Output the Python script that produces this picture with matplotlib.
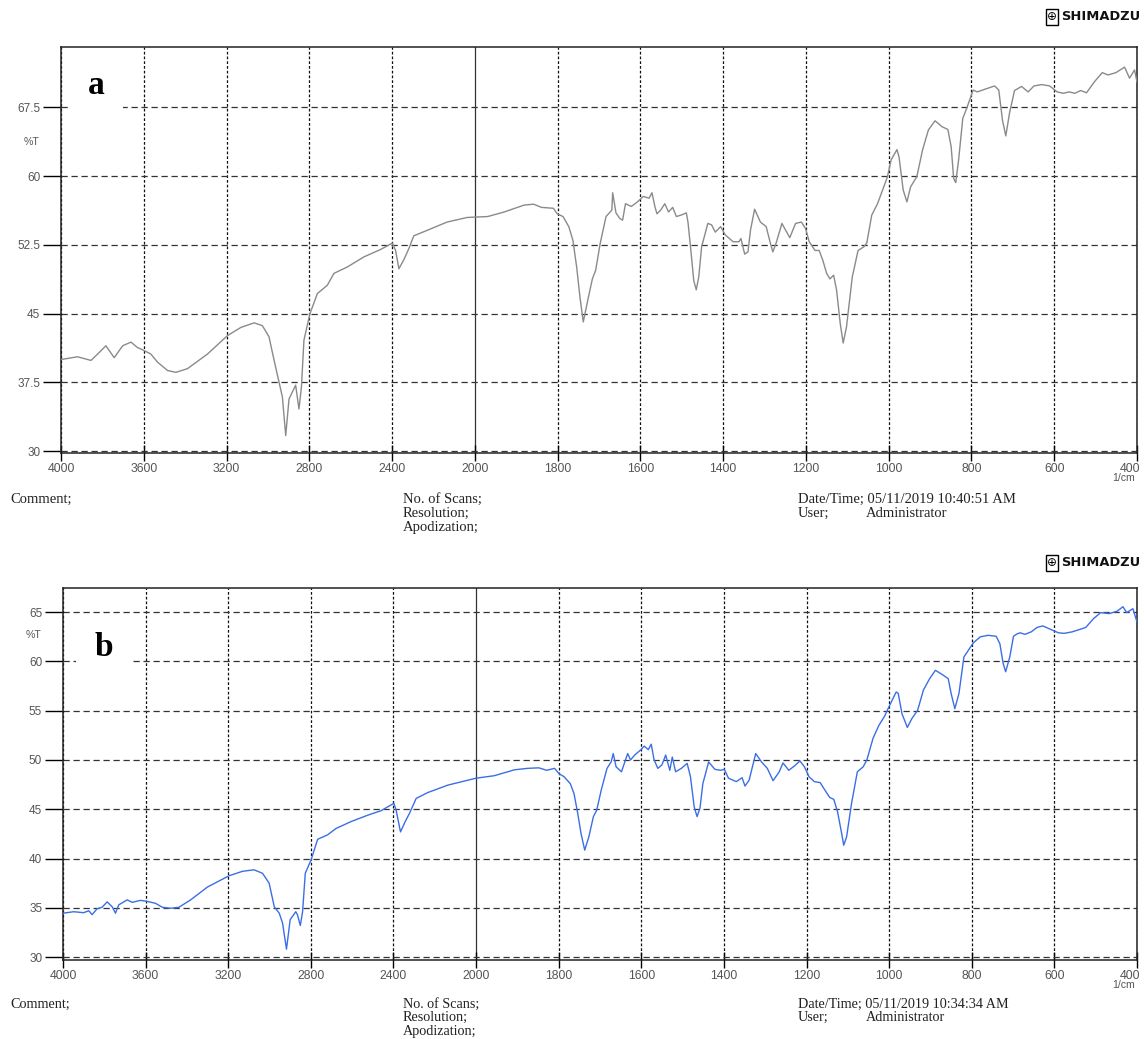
import numpy as np
import matplotlib
matplotlib.use("Agg")
import matplotlib.pyplot as plt
import matplotlib.transforms as mtransforms

# spectrum a (grey): wavenumber (1/cm), %T
wn_a = [4000, 3920, 3855, 3823, 3783, 3743, 3702, 3662, 3630, 3600, 3566, 3533, 3485, 3445,
        3389, 3292, 3196, 3131, 3067, 3027, 2995, 2970, 2946, 2930, 2914, 2898, 2866, 2850,
        2838, 2826, 2797, 2761, 2713, 2681, 2616, 2536, 2456, 2399, 2383, 2367, 2343, 2319,
        2295, 2230, 2134, 2037, 1969, 1929, 1881, 1858, 1839, 1810, 1801, 1787, 1773, 1763,
        1754, 1746, 1738, 1727, 1716, 1708, 1697, 1683, 1669, 1667, 1659, 1650, 1643, 1636,
        1622, 1607, 1593, 1579, 1572, 1565, 1560, 1551, 1541, 1532, 1522, 1513, 1499, 1489,
        1485, 1478, 1471, 1465, 1459, 1452, 1437, 1428, 1419, 1406, 1395, 1376, 1362, 1357,
        1348, 1340, 1334, 1324, 1310, 1296, 1286, 1280, 1272, 1258, 1249, 1239, 1225, 1211,
        1201, 1192, 1178, 1168, 1159, 1150, 1142, 1133, 1126, 1117, 1110, 1102, 1088, 1074,
        1060, 1053, 1041, 1027, 1013, 1003, 994, 980, 975, 965, 956, 947, 932, 918, 904, 888,
        871, 857, 849, 843, 838, 831, 821, 810, 796, 786, 767, 744, 734, 725, 717, 708, 696,
        679, 663, 649, 630, 611, 593, 578, 564, 550, 536, 522, 503, 484, 470, 451, 430, 418,
        406, 400]
t_a = [40.0, 40.3, 39.9, 40.6, 41.5, 40.2, 41.5, 41.9, 41.3, 41.0, 40.6, 39.7, 38.8, 38.6,
       39.0, 40.6, 42.6, 43.5, 44.0, 43.7, 42.5, 39.9, 37.5, 35.9, 31.7, 35.7, 37.2, 34.6,
       37.0, 42.1, 45.0, 47.2, 48.1, 49.4, 50.1, 51.2, 52.0, 52.7, 51.9, 49.9, 50.9, 52.1,
       53.5, 54.1, 55.0, 55.5, 55.6, 56.1, 56.85, 56.95, 56.6, 56.5, 55.9, 55.6, 54.5, 53.0,
       50.1, 46.8, 44.1, 46.5, 48.8, 49.75, 52.7, 55.6, 56.3, 58.2, 56.0, 55.4, 55.2, 57.0,
       56.7, 57.2, 57.8, 57.6, 58.2, 56.7, 55.9, 56.3, 57.0, 56.1, 56.6, 55.6, 55.8, 56.0,
       55.0, 51.9, 48.6, 47.6, 49.0, 52.3, 54.85, 54.7, 53.9, 54.5, 53.6, 52.85, 52.85, 53.2,
       51.5, 51.75, 54.1, 56.4, 55.0, 54.5, 52.7, 51.75, 52.7, 54.85, 54.1, 53.3, 54.85, 55.0,
       54.3, 52.85, 51.9, 51.9, 50.8, 49.4, 48.8, 49.2, 47.6, 43.9, 41.8, 43.55, 49.0, 51.9,
       52.3, 52.7, 55.75, 57.0, 58.7, 59.95, 61.8, 62.9, 62.1, 58.5, 57.2, 58.85, 59.95, 62.9,
       65.05, 66.05, 65.4, 65.1, 63.2, 59.75, 59.3, 61.8, 66.3, 67.6, 69.4, 69.2, 69.5, 69.85,
       69.4, 66.1, 64.4, 66.9, 69.35, 69.8, 69.2, 69.85, 70.0, 69.85, 69.2, 69.05, 69.2,
       69.05, 69.35, 69.1, 70.3, 71.3, 71.05, 71.3, 71.9, 70.7, 71.6, 70.3]

# spectrum b (blue)
wn_b = [4000, 3948, 3900, 3875, 3859, 3835, 3811, 3786, 3762, 3746, 3730, 3689, 3665, 3625,
        3592, 3552, 3519, 3479, 3439, 3382, 3301, 3196, 3131, 3075, 3034, 3002, 2977, 2953,
        2937, 2918, 2900, 2873, 2865, 2851, 2840, 2827, 2799, 2767, 2719, 2678, 2605, 2524,
        2460, 2398, 2387, 2366, 2343, 2322, 2290, 2233, 2136, 2000, 1956, 1907, 1875, 1848,
        1829, 1810, 1799, 1787, 1772, 1763, 1754, 1746, 1737, 1727, 1716, 1708, 1697, 1683,
        1673, 1668, 1661, 1648, 1633, 1626, 1616, 1602, 1593, 1583, 1576, 1569, 1560, 1550,
        1541, 1531, 1525, 1517, 1503, 1489, 1481, 1472, 1465, 1458, 1451, 1437, 1422, 1408,
        1399, 1389, 1370, 1356, 1349, 1339, 1323, 1309, 1295, 1281, 1266, 1257, 1243, 1229,
        1216, 1205, 1194, 1181, 1167, 1158, 1144, 1134, 1125, 1115, 1110, 1103, 1091, 1077,
        1063, 1054, 1039, 1025, 1011, 997, 983, 978, 969, 956, 945, 931, 917, 902, 888, 869,
        857, 850, 841, 831, 819, 808, 796, 779, 760, 741, 732, 724, 718, 708, 699, 690, 683,
        671, 656, 642, 628, 609, 590, 576, 557, 538, 524, 505, 488, 467, 448, 434, 425, 410,
        400]
t_b = [34.45, 34.6, 34.5, 34.7, 34.3, 34.9, 35.05, 35.6, 35.1, 34.45, 35.3, 35.8, 35.55, 35.75,
       35.65, 35.45, 35.05, 34.95, 35.05, 35.8, 37.1, 38.25, 38.7, 38.85, 38.5, 37.5, 35.1, 34.45,
       33.45, 30.8, 33.8, 34.6, 34.3, 33.2, 34.6, 38.5, 39.85, 41.95, 42.4, 43.05, 43.75, 44.4,
       44.85, 45.6, 44.9, 42.7, 43.75, 44.6, 46.1, 46.7, 47.45, 48.15, 48.4, 49.0, 49.15, 49.2,
       48.95, 49.15, 48.6, 48.3, 47.6, 46.6, 44.6, 42.55, 40.85, 42.2, 44.25, 44.9, 46.95, 49.15,
       49.8, 50.65, 49.3, 48.8, 50.65, 50.0, 50.5, 51.0, 51.4, 51.05, 51.6, 50.0, 49.15, 49.5,
       50.5, 48.95, 50.3, 48.8, 49.15, 49.65, 48.3, 45.25, 44.25, 45.1, 47.6, 49.8, 49.05, 48.95,
       49.05, 48.15, 47.8, 48.2, 47.35, 47.95, 50.65, 49.8, 49.15, 47.9, 48.8, 49.7, 48.95, 49.4,
       49.9, 49.3, 48.3, 47.8, 47.7, 47.1, 46.2, 46.0, 44.75, 42.55, 41.35, 42.2, 45.6, 48.8,
       49.3, 50.0, 52.2, 53.5, 54.45, 55.7, 56.9, 56.75, 54.7, 53.3, 54.2, 55.05, 57.1, 58.25,
       59.1, 58.6, 58.25, 56.75, 55.2, 56.75, 60.45, 61.15, 61.9, 62.5, 62.65, 62.55, 61.8,
       59.8, 58.95, 60.45, 62.55, 62.8, 62.9, 62.75, 63.0, 63.45, 63.6, 63.25, 62.9, 62.85,
       63.0, 63.25, 63.45, 64.35, 64.95, 64.85, 65.1, 65.55, 64.95, 65.35, 64.0]

xticks = [4000, 3600, 3200, 2800, 2400, 2000, 1800, 1600, 1400, 1200, 1000, 800, 600, 400]
yticks_a = [30, 37.5, 45, 52.5, 60, 67.5]
yticks_b = [30, 35, 40, 45, 50, 55, 60, 65]

W, H = 1144, 1039


# shimadzu charts use half scale above 2000 1/cm
def fwd(x):
    x = np.asarray(x, dtype=float)
    return np.where(x > 2000, 2000 + (x - 2000) / 2.0, x)


def inv(u):
    u = np.asarray(u, dtype=float)
    return np.where(u > 2000, 2000 + (u - 2000) * 2.0, u)


def box(l, t, r, b):
    return [l / W, 1 - b / H, (r - l) / W, (b - t) / H]


def fx(x):
    return x / W


def fy(y):
    return 1 - y / H


fig = plt.figure(figsize=(W / 100, H / 100), dpi=100)
sans = ["Liberation Sans", "DejaVu Sans"]
serif = ["Liberation Serif", "DejaVu Serif"]


def panel(rect, wn, t, color, yticks, ylim, tlab, letter, letter_xy, unit_y):
    ax = fig.add_axes(rect)
    ax.plot(wn, t, color=color, lw=1.0, zorder=3)
    ax.set_xscale("function", functions=(fwd, inv))
    ax.set_xlim(4000, 400)
    ax.set_ylim(*ylim)
    ax.set_xticks(xticks)
    ax.set_xticklabels([str(v) for v in xticks])
    ax.set_yticks(yticks)
    ax.set_yticklabels([("%g" % v) for v in yticks])
    ax.minorticks_off()
    ax.tick_params(axis="y", direction="out", length=13, width=1, pad=2,
                   labelsize=8.5, labelcolor="#555555")
    ax.tick_params(axis="x", direction="inout", length=11, width=1, pad=2,
                   labelsize=8.8, labelcolor="#555555")
    for lab in ax.get_xticklabels() + ax.get_yticklabels():
        lab.set_family(sans)
    # last label sits on the right edge, pull it in a little
    last = ax.get_xticklabels()[-1]
    last.set_transform(last.get_transform() +
                       mtransforms.ScaledTranslation(-7 / 100, 0, fig.dpi_scale_trans))
    ax.grid(axis="y", color="#333333", lw=0.9, linestyle=(0, (5, 3)), zorder=1)
    ax.grid(axis="x", color="#111111", lw=0.9, linestyle=(0, (2.2, 1.6)), zorder=1)
    for v, gl in zip(xticks, ax.get_xgridlines()):
        if v == 2000:
            gl.set_linestyle("-")
            gl.set_color("#333333")
    for s in ax.spines.values():
        s.set_linewidth(1.1)
        s.set_color("#222222")
    ax.text(-0.027, tlab, "%T", transform=ax.transAxes, fontsize=7.6, color="#555555",
            ha="center", va="center", family=sans)
    ax.text(0.998, unit_y, "1/cm", transform=ax.transAxes, fontsize=7.6, color="#555555",
            ha="right", va="top", family=sans)
    ax.text(letter_xy[0], letter_xy[1], letter, transform=ax.transAxes, fontsize=24,
            fontweight="bold", family=serif, ha="center", va="center", zorder=5,
            bbox=dict(boxstyle="square,pad=0.55", fc="white", ec="none"))
    return ax


panel(box(61, 47, 1137, 453), wn_a, t_a, "#8a8a8a", yticks_a, (29.8, 74.1), 0.765,
      "a", (0.033, 0.905), -0.05)
panel(box(63, 588, 1137, 960), wn_b, t_b, "#3b6ee6", yticks_b, (29.7, 67.45), 0.875,
      "b", (0.038, 0.84), -0.055)


def footer(y0, stamp, step, size):
    kw = dict(family=serif, fontsize=size, color="#222222", va="center")
    fig.text(fx(10), fy(y0), "Comment;", **kw)
    fig.text(fx(403), fy(y0), "No. of Scans;", **kw)
    fig.text(fx(403), fy(y0 + step), "Resolution;", **kw)
    fig.text(fx(403), fy(y0 + 2 * step), "Apodization;", **kw)
    fig.text(fx(798), fy(y0), "Date/Time; " + stamp, **kw)
    fig.text(fx(798), fy(y0 + step), "User;", **kw)
    fig.text(fx(866), fy(y0 + step), "Administrator", **kw)


footer(499, "05/11/2019 10:40:51 AM", 14, 10.5)
footer(1004, "05/11/2019 10:34:34 AM", 13.5, 10.2)


def logo(y):
    fig.text(fx(1052), fy(y), "\u2295", family=["DejaVu Sans"], fontsize=8.5, ha="center",
             va="center", bbox=dict(boxstyle="square,pad=0.12", fc="white", ec="black", lw=1))
    fig.text(fx(1061), fy(y), "SHIMADZU", family=["DejaVu Sans"], fontsize=9.4,
             fontweight="heavy", ha="left", va="center", color="#111111")


logo(17)
logo(563)

fig.savefig("out.png", dpi=100)
